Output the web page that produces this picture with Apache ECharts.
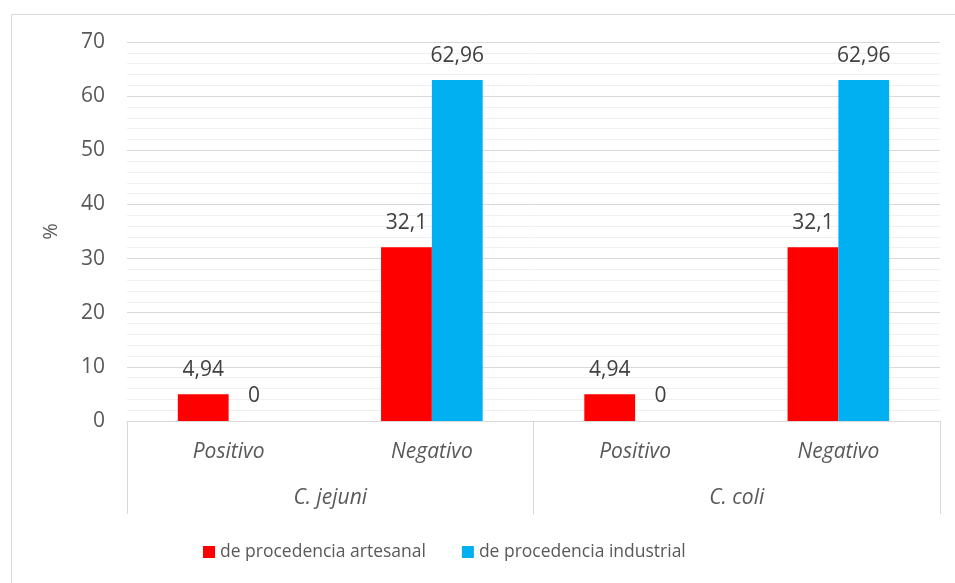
<!DOCTYPE html>
<html lang="es">

<head>
    <meta charset="UTF-8">
    <title>Campylobacter</title>
    <style>
        * {
            margin: 0;
            padding: 0;
        }

        #chart {
            width: 955px;
            height: 583px;
            background: #fff;
        }
    </style>
</head>

<body>
    <div id="chart"></div>

    <script src="https://cdn.jsdelivr.net/npm/echarts@6/dist/echarts.min.js"></script>
    <script>
        // datos
        var subCats = ['Positivo', 'Negativo', 'Positivo', 'Negativo'];
        var groups = ['C. jejuni', 'C. coli'];
        var artesanal = [4.94, 32.1, 4.94, 32.1];
        var industrial = [0, 62.96, 0, 62.96];
        var seriesNames = ['de procedencia artesanal', 'de procedencia industrial'];

        var font = '"Open Sans", sans-serif';
        var grey = '#595959';

        function fmt(p) {
            return String(p.value).replace('.', ',');
        }

        var chart = echarts.init(document.getElementById('chart'));

        var option = {
            animation: false,
            textStyle: { fontFamily: font },
            graphic: [{
                type: 'rect',
                left: 9,
                top: 12,
                shape: { width: 1000, height: 1000 },
                style: { fill: 'none', stroke: '#d9d9d9', lineWidth: 1 },
                silent: true
            }],
            grid: {
                left: 127,
                right: 15,
                top: 42,
                bottom: 162
            },
            legend: {
                left: 203,
                top: 543,
                padding: 0,
                itemWidth: 12,
                itemHeight: 12,
                itemGap: 36,
                icon: 'rect',
                textStyle: { fontSize: 17.5, color: grey, fontFamily: font },
                data: seriesNames
            },
            xAxis: [
                {
                    type: 'category',
                    data: subCats,
                    axisLine: { lineStyle: { color: '#d9d9d9' } },
                    axisTick: { show: false },
                    axisLabel: {
                        fontSize: 21,
                        fontStyle: 'italic',
                        color: grey,
                        margin: 21,
                        fontFamily: font
                    }
                },
                {
                    type: 'category',
                    position: 'bottom',
                    data: groups,
                    axisLine: { show: false },
                    axisTick: { show: true, length: 93, lineStyle: { color: '#d9d9d9' } },
                    axisLabel: {
                        fontSize: 21,
                        fontStyle: 'italic',
                        color: grey,
                        margin: 67,
                        fontFamily: font
                    }
                }
            ],
            yAxis: {
                type: 'value',
                min: 0,
                max: 70,
                interval: 10,
                name: '%',
                nameLocation: 'middle',
                nameGap: 66,
                nameTextStyle: { fontSize: 20, color: grey, fontFamily: font },
                axisLine: { show: false },
                axisTick: { show: false },
                axisLabel: { fontSize: 21, color: grey, margin: 22, fontFamily: font },
                splitLine: { lineStyle: { color: '#d9d9d9' } },
                minorTick: { show: false, splitNumber: 5 },
                minorSplitLine: { show: true, lineStyle: { color: '#f0f0f0' } }
            },
            series: [
                {
                    name: seriesNames[0],
                    type: 'bar',
                    xAxisIndex: 0,
                    data: artesanal,
                    itemStyle: { color: '#ff0000' },
                    barGap: 0,
                    barCategoryGap: '50%',
                    label: {
                        show: true,
                        position: 'top',
                        distance: 14,
                        fontSize: 21,
                        color: '#404040',
                        fontFamily: font,
                        formatter: fmt
                    }
                },
                {
                    name: seriesNames[1],
                    type: 'bar',
                    xAxisIndex: 0,
                    data: industrial,
                    itemStyle: { color: '#00b0f0' },
                    barGap: 0,
                    barCategoryGap: '50%',
                    label: {
                        show: true,
                        position: 'top',
                        distance: 14,
                        fontSize: 21,
                        color: '#404040',
                        fontFamily: font,
                        formatter: fmt
                    }
                }
            ]
        };

        chart.setOption(option);
    </script>
</body>

</html>
